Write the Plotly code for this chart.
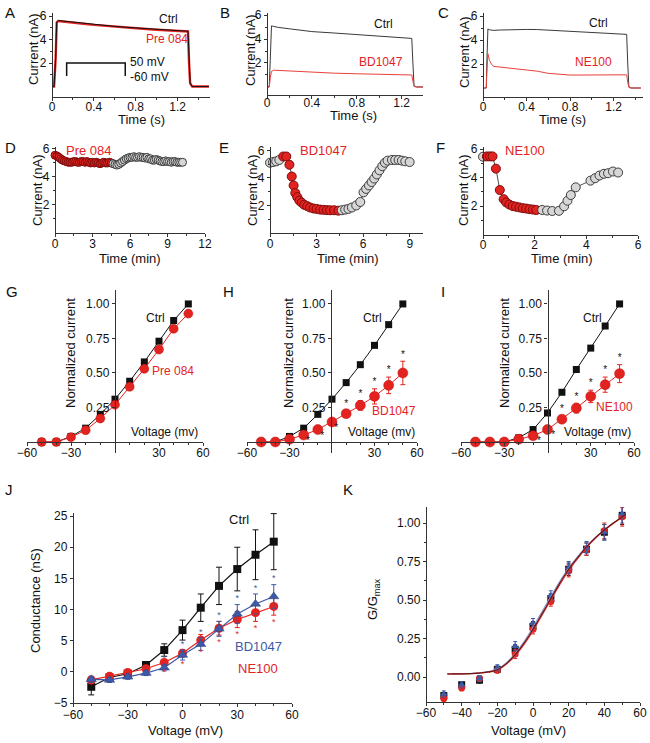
import plotly.graph_objects as go

W, H = 650, 743
FONT = "Liberation Sans, Arial, sans-serif"
RED = "#e3231f"
REDLINE = "#e8403c"
BLUE = "#3d5aa8"
BLK = "#111111"

# ---------------- data ----------------
# A
a_t = [0, 0.02, 0.035, 0.045, 0.06, 0.1, 0.2, 0.3, 0.4, 0.5, 0.6, 0.7, 0.8, 0.9, 1.0, 1.1, 1.2, 1.3, 1.31, 1.32, 1.34, 1.4, 1.5]
a_ctrl = [0, 0, 2.5, 5.5, 5.62, 5.58, 5.48, 5.38, 5.28, 5.2, 5.12, 5.05, 4.98, 4.92, 4.86, 4.81, 4.76, 4.71, 2.0, 0.3, 0, 0, 0]
a_pre = [0, 0, 2.4, 5.45, 5.58, 5.55, 5.45, 5.35, 5.25, 5.17, 5.1, 5.03, 4.96, 4.9, 4.84, 4.79, 4.74, 4.69, 2.0, 0.3, 0, 0, 0]
proto_t = [0.14, 0.14, 0.70, 0.70]
proto_v = [0.9, 2.0, 2.0, 0.9]
# B
b_t = [0, 0.02, 0.03, 0.04, 0.06, 0.1, 0.2, 0.4, 0.6, 0.8, 1.0, 1.2, 1.29, 1.3, 1.31, 1.33, 1.39]
b_ctrl = [0, 0, 2.5, 5.1, 5.05, 4.97, 4.85, 4.62, 4.5, 4.38, 4.25, 4.12, 4.05, 2.0, 0.1, 0, 0]
b_bd = [0, 0, 0.8, 1.3, 1.4, 1.38, 1.33, 1.22, 1.15, 1.1, 1.05, 1.02, 1.0, 0.5, 0.05, 0, 0]
# C
c_t = [0, 0.03, 0.035, 0.04, 0.045, 0.06, 0.08, 0.1, 0.15, 0.2, 0.3, 0.4, 0.5, 0.6, 0.7, 0.8, 0.9, 1.0, 1.1, 1.2, 1.3, 1.32, 1.33, 1.34, 1.36, 1.45]
c_ctrl = [0, 0, 2, 4.6, 4.92, 4.85, 4.8, 4.8, 4.83, 4.85, 4.88, 4.88, 4.87, 4.82, 4.78, 4.74, 4.7, 4.66, 4.62, 4.57, 4.5, 4.47, 2, 0.1, 0, 0]
c_ne = [0, 0, 1.2, 2.6, 2.85, 2.3, 1.95, 1.8, 1.75, 1.7, 1.64, 1.56, 1.4, 1.22, 1.12, 1.08, 1.08, 1.08, 1.09, 1.1, 1.1, 1.1, 0.5, 0.05, 0, 0]
# D
d_red_t = [0.0, 0.15, 0.3, 0.45, 0.6, 0.75, 0.9, 1.05, 1.2, 1.35, 1.5, 1.65, 1.8, 1.95, 2.1, 2.25, 2.4, 2.55, 2.7, 2.85, 3.0, 3.15, 3.3, 3.45, 3.6, 3.75, 3.9, 4.05, 4.2, 4.35, 4.5]
d_red_i = [5.55, 5.5, 5.4, 5.3, 5.2, 5.15, 5.1, 5.05, 5.05, 5.05, 5.1, 5.1, 5.05, 5.05, 5.1, 5.1, 5.05, 5.1, 5.05, 5.0, 5.05, 5.0, 5.05, 5.0, 4.95, 5.0, 5.05, 5.0, 5.0, 5.05, 5.0]
d_gray_t = [4.65, 4.8, 4.95, 5.1, 5.25, 5.4, 5.55, 5.7, 5.85, 6.0, 6.15, 6.3, 6.45, 6.6, 6.75, 6.9, 7.05, 7.2, 7.35, 7.5, 7.65, 7.8, 7.95, 8.1, 8.25, 8.4, 8.55, 8.7, 8.85, 9.0, 9.15, 9.3, 9.45, 9.6, 9.75, 9.9, 10.05, 10.2]
d_gray_i = [4.95, 4.9, 4.85, 4.9, 5.0, 5.1, 5.2, 5.3, 5.35, 5.4, 5.4, 5.45, 5.4, 5.4, 5.45, 5.4, 5.4, 5.35, 5.4, 5.3, 5.3, 5.2, 5.2, 5.25, 5.2, 5.15, 5.1, 5.1, 5.15, 5.1, 5.1, 5.05, 5.1, 5.1, 5.05, 5.05, 5.05, 5.05]
# E
e_gray1_t = [0.0, 0.2, 0.4, 0.6]
e_gray1_i = [5.1, 5.15, 5.2, 5.3]
e_red_t = [0.85, 1.05, 1.25, 1.4, 1.52, 1.63, 1.76, 1.89, 2.04, 2.2, 2.4, 2.58, 2.8, 3.0, 3.23, 3.44, 3.66, 3.87, 4.13, 4.4]
e_red_i = [5.55, 5.55, 4.95, 4.1, 3.45, 2.9, 2.6, 2.35, 2.2, 2.05, 1.95, 1.85, 1.78, 1.75, 1.7, 1.68, 1.66, 1.65, 1.65, 1.62]
e_gray2_t = [4.62, 4.84, 5.05, 5.27, 5.55, 5.81, 6.02, 6.19, 6.37, 6.54, 6.71, 6.88, 7.05, 7.23, 7.4, 7.57, 7.85, 8.06, 8.28, 8.49, 8.71, 8.99]
e_gray2_i = [1.65, 1.7, 1.75, 1.85, 2.0, 2.25, 2.95, 3.2, 3.45, 3.7, 3.95, 4.25, 4.55, 4.85, 5.1, 5.25, 5.3, 5.3, 5.3, 5.25, 5.2, 5.15]
# F
f_gray1_t = [0.0]
f_gray1_i = [5.46]
f_red_t = [0.15, 0.27, 0.37, 0.5, 0.65, 0.8, 0.9, 1.02, 1.15, 1.28, 1.41, 1.54, 1.67, 1.8, 1.93, 2.06]
f_red_i = [5.48, 5.48, 5.48, 4.62, 3.12, 2.48, 2.25, 2.1, 2.0, 1.95, 1.9, 1.85, 1.82, 1.78, 1.75, 1.72]
f_gray2_t = [2.29, 2.48, 2.68, 2.94, 3.14, 3.27, 3.4, 3.59, 4.16, 4.34, 4.51, 4.68, 4.84, 5.03, 5.23]
f_gray2_i = [1.72, 1.68, 1.65, 1.66, 1.98, 2.37, 2.77, 3.31, 3.78, 3.95, 4.14, 4.26, 4.3, 4.42, 4.35]
# G, H, I
volt = [-50, -40, -30, -20, -10, 0, 10, 20, 30, 40, 50]
g_ctrl = [0, 0, 0.04, 0.1, 0.2, 0.31, 0.44, 0.58, 0.73, 0.88, 1.0]
g_pre = [0, 0, 0.035, 0.085, 0.17, 0.27, 0.4, 0.53, 0.67, 0.82, 0.93]
h_ctrl = [0, 0, 0.04, 0.1, 0.2, 0.31, 0.43, 0.56, 0.7, 0.85, 1.0]
h_bd = [0, 0, 0.02, 0.05, 0.09, 0.145, 0.205, 0.265, 0.33, 0.41, 0.5]
h_bd_err = [0, 0, 0.005, 0.01, 0.015, 0.02, 0.02, 0.035, 0.055, 0.06, 0.085]
i_ctrl = [0, 0, 0, 0.03, 0.09, 0.21, 0.36, 0.525, 0.68, 0.84, 1.0]
i_ne = [0, 0, 0, 0.02, 0.045, 0.09, 0.165, 0.245, 0.33, 0.415, 0.495]
i_ne_err = [0, 0, 0.005, 0.005, 0.01, 0.015, 0.025, 0.035, 0.045, 0.055, 0.065]
# J
j_ctrl = [-2.4, -0.9, -0.3, 1.1, 3.5, 6.7, 10.3, 13.8, 16.5, 18.8, 20.9]
j_ctrl_err = [1.3, 0.5, 0.4, 0.4, 1.0, 1.6, 2.2, 3.0, 3.5, 4.0, 4.5]
j_bd = [-1.2, -1.3, -0.8, -0.2, 0.65, 2.7, 4.45, 6.9, 9.3, 10.9, 12.1]
j_bd_err = [0.5, 0.4, 0.4, 0.4, 0.5, 0.8, 1.0, 1.2, 1.5, 1.6, 1.9]
j_ne = [-1.3, -0.7, -0.1, 0.5, 1.5, 3.0, 5.1, 7.0, 8.4, 9.5, 10.5]
j_ne_err = [0.5, 0.4, 0.4, 0.4, 0.5, 0.6, 0.9, 1.1, 1.3, 1.4, 1.4]
# K
k_ctrl = [-0.12, -0.05, -0.02, 0.05, 0.18, 0.33, 0.51, 0.70, 0.83, 0.94, 1.05]
k_bd = [-0.11, -0.05, -0.01, 0.06, 0.2, 0.35, 0.53, 0.71, 0.84, 0.94, 1.06]
k_ne = [-0.14, -0.07, -0.01, 0.045, 0.15, 0.31, 0.49, 0.69, 0.83, 0.95, 1.04]
k_err = [0.02, 0.02, 0.02, 0.02, 0.03, 0.03, 0.03, 0.04, 0.04, 0.05, 0.06]
k_fit_v = [-48, -45, -40, -35, -30, -25, -20, -15, -10, -5, 0, 5, 10, 15, 20, 25, 30, 35, 40, 45, 50, 52]
k_fit_ctrl = [0.02, 0.02, 0.021, 0.022, 0.026, 0.033, 0.047, 0.087, 0.145, 0.22, 0.31, 0.41, 0.51, 0.61, 0.70, 0.775, 0.845, 0.905, 0.955, 1.0, 1.04, 1.055]
k_fit_bd = [0.02, 0.02, 0.021, 0.023, 0.028, 0.036, 0.052, 0.094, 0.155, 0.232, 0.325, 0.425, 0.525, 0.622, 0.71, 0.783, 0.85, 0.908, 0.957, 1.0, 1.038, 1.05]
k_fit_ne = [0.02, 0.02, 0.021, 0.022, 0.025, 0.032, 0.045, 0.083, 0.138, 0.212, 0.30, 0.40, 0.50, 0.60, 0.69, 0.768, 0.84, 0.9, 0.952, 0.997, 1.037, 1.05]

# ---------------- layout helpers ----------------
def fx(px):
    return px / W

def fy(py):
    return 1 - py / H

layout = dict(width=W, height=H, margin=dict(l=0, r=0, t=0, b=0, pad=0, autoexpand=False),
              paper_bgcolor="white", plot_bgcolor="white", showlegend=False,
              font=dict(family=FONT, size=12, color=BLK))
annotations = []
traces = []

def axis_style(**kw):
    d = dict(showline=True, linecolor="#333", linewidth=1.3, ticks="outside", ticklen=3,
             tickwidth=1.2, tickcolor="#333", showgrid=False, zeroline=False, automargin=False,
             tickfont=dict(family=FONT, size=12, color=BLK), fixedrange=True)
    d.update(kw)
    return d

def make_axes(n, xpx, ypx, xr, yr, xt, yt, xminor=None, yminor=None,
              xpos=None, ypos=None, xfmt=None, yfmt=None, xstand=0):
    s = "" if n == 1 else str(n)
    xa = axis_style(domain=[fx(xpx[0]), fx(xpx[1])], range=xr, tickmode="array",
                    tickvals=xt, anchor="free",
                    position=fy(ypx[1] if xpos is None else xpos),
                    ticklabelstandoff=xstand)
    ya = axis_style(domain=[fy(ypx[1]), fy(ypx[0])], range=yr, tickmode="array",
                    tickvals=yt, anchor="free",
                    position=fx(xpx[0] if ypos is None else ypos))
    if xfmt:
        xa["tickformat"] = xfmt
    if yfmt:
        ya["tickformat"] = yfmt
    if xminor:
        xa["minor"] = dict(tickmode="array", tickvals=xminor, ticks="outside", ticklen=2, tickcolor="#333")
    if yminor:
        ya["minor"] = dict(tickmode="array", tickvals=yminor, ticks="outside", ticklen=2, tickcolor="#333")
    layout["xaxis" + s] = xa
    layout["yaxis" + s] = ya
    return "x" + s, "y" + s

def ann(text, x, y, size=13, color=BLK, angle=0, xanchor="center"):
    annotations.append(dict(text=text, x=fx(x), y=fy(y), xref="paper", yref="paper",
                            showarrow=False, font=dict(family=FONT, size=size, color=color),
                            textangle=angle, xanchor=xanchor, yanchor="middle"))

def line(x, y, xa, ya, color, width=1.0):
    traces.append(go.Scatter(x=x, y=y, xaxis=xa, yaxis=ya, mode="lines",
                             line=dict(color=color, width=width), hoverinfo="skip"))

# ---------------- Row 1: traces ----------------
xa, ya = make_axes(1, (52, 210), (13, 97), [0, 1.51], [-0.89, 6.26],
                   [0, 0.4, 0.8, 1.2], [2, 4, 6], xminor=[0.2, 0.6, 1.0, 1.4], yminor=[1, 3, 5],
                   xstand=-5)
line(a_t, a_pre, xa, ya, RED, 2.4)
line(a_t, a_ctrl, xa, ya, BLK, 1.0)
line(proto_t, proto_v, xa, ya, BLK, 1.5)
ann("Ctrl", 168, 19, 12)
ann("Pre 084", 167, 39, 12, RED)
ann("50 mV", 128, 62, 12, xanchor="left")
ann("-60 mV", 128, 77, 12, xanchor="left")
ann("Current (nA)", 33, 49, 13, angle=-90)
ann("Time (s)", 141, 119, 13)

xa, ya = make_axes(2, (267, 423), (13, 95), [0, 1.39], [-0.67, 6.17],
                   [0, 0.4, 0.8, 1.2], [2, 4, 6], xminor=[0.2, 0.6, 1.0], yminor=[1, 3, 5],
                   xstand=-7)
line(b_t, b_ctrl, xa, ya, "#3a3a3a", 1.0)
line(b_t, b_bd, xa, ya, REDLINE, 1.0)
ann("Ctrl", 383, 24, 12)
ann("BD1047", 381, 62, 12, RED)
ann("Current (nA)", 250, 50, 13, angle=-90)
ann("Time (s)", 353, 115, 13)

xa, ya = make_axes(3, (483, 643), (13, 97), [0, 1.47], [-0.75, 6.25],
                   [0, 0.4, 0.8, 1.2], [2, 4, 6], xminor=[0.2, 0.6, 1.0, 1.4], yminor=[1, 3, 5],
                   xstand=-5)
line(c_t, c_ctrl, xa, ya, "#3a3a3a", 1.0)
line(c_t, c_ne, xa, ya, REDLINE, 1.0)
ann("Ctrl", 598, 23, 12)
ann("NE100", 593, 62, 12, RED)
ann("Current (nA)", 465, 52, 13, angle=-90)
ann("Time (s)", 562, 119, 13)

# ---------------- Row 2: time courses ----------------
GRAY_M = dict(color="#d6d6d6", line=dict(color="#3c3c3c", width=1))
RED_M = dict(color=RED, line=dict(color="#7a0d0d", width=1))

def timecourse(xa, ya, segs, msize):
    allx, ally = [], []
    for t, i, kind in segs:
        allx += t
        ally += i
    line(allx, ally, xa, ya, "#222", 0.8)
    for t, i, kind in segs:
        m = dict(GRAY_M if kind == "g" else RED_M)
        m["size"] = msize
        traces.append(go.Scatter(x=t, y=i, xaxis=xa, yaxis=ya, mode="markers",
                                 marker=m, cliponaxis=False, hoverinfo="skip"))

xa, ya = make_axes(4, (55, 205), (147, 233), [0, 12], [0, 6.14],
                   [0, 3, 6, 9, 12], [2, 4, 6], xminor=[1.5, 4.5, 7.5, 10.5], yminor=[1, 3, 5],
                   xstand=-4)
timecourse(xa, ya, [(d_red_t, d_red_i, "r"), (d_gray_t, d_gray_i, "g")], 8)
ann("Pre 084", 89, 150, 13, RED)
ann("Current (nA)", 37, 190, 13, angle=-90)
ann("Time (min)", 130, 259, 13)

xa, ya = make_axes(5, (270, 423), (147, 233), [0, 9.85], [0, 6.24],
                   [0, 3, 6, 9], [2, 4, 6], xminor=[1.5, 4.5, 7.5], yminor=[1, 3, 5],
                   xstand=-4)
timecourse(xa, ya, [(e_gray1_t, e_gray1_i, "g"), (e_red_t, e_red_i, "r"),
                    (e_gray2_t, e_gray2_i, "g")], 9)
ann("BD1047", 323, 150, 13, RED)
ann("Current (nA)", 252, 190, 13, angle=-90)
ann("Time (min)", 348, 259, 13)

xa, ya = make_axes(6, (483, 638), (147, 234.5), [0, 6], [0, 6.14],
                   [0, 2, 4, 6], [2, 4, 6], xminor=[1, 3, 5], yminor=[1, 3, 5],
                   xstand=-4)
timecourse(xa, ya, [(f_gray1_t, f_gray1_i, "g"), (f_red_t, f_red_i, "r"),
                    (f_gray2_t, f_gray2_i, "g")], 9)
ann("NE100", 525, 150, 13, RED)
ann("Current (nA)", 463, 190, 13, angle=-90)
ann("Time (min)", 562, 259, 13)

# ---------------- Row 3: I-V ----------------
def iv_axes(n, xpx, yax_px):
    return make_axes(n, xpx, (290, 453), [-60, 60], [-0.08, 1.101],
                     [-60, -30, 30, 60], [0.25, 0.5, 0.75, 1.0],
                     xminor=[-50, -40, -20, -10, 10, 20, 40, 50],
                     xpos=442, ypos=yax_px, yfmt=".2f", xstand=-4)

def sq(xa, ya, y, size=7):
    traces.append(go.Scatter(x=volt, y=y, xaxis=xa, yaxis=ya, mode="lines+markers",
                             line=dict(color=BLK, width=1),
                             marker=dict(symbol="square", size=size, color=BLK),
                             cliponaxis=False, hoverinfo="skip"))

def rc(xa, ya, y, err=None, size=9):
    kw = {}
    if err is not None:
        kw["error_y"] = dict(type="data", array=err, color=RED, thickness=1, width=2.5)
    traces.append(go.Scatter(x=volt, y=y, xaxis=xa, yaxis=ya, mode="lines+markers",
                             line=dict(color=RED, width=1),
                             marker=dict(symbol="circle", size=size, color=RED,
                                         line=dict(color="#c01010", width=0.5)),
                             cliponaxis=False, hoverinfo="skip", **kw))

def stars(xa, ya, xs, ys, color=BLK, size=10):
    traces.append(go.Scatter(x=xs, y=ys, xaxis=xa, yaxis=ya, mode="text", text=["*"] * len(xs),
                             textfont=dict(family=FONT, size=size, color=color),
                             cliponaxis=False, hoverinfo="skip"))

xa, ya = iv_axes(7, (27, 203), 115)
sq(xa, ya, g_ctrl)
rc(xa, ya, g_pre)
ann("Ctrl", 155, 318, 12)
ann("Pre 084", 173, 371, 12, RED)
ann("Voltage (mv)", 164, 432, 12)
ann("Normalized current", 70, 353, 13, angle=-90)

xa, ya = iv_axes(8, (247, 417), 331)
sq(xa, ya, h_ctrl)
rc(xa, ya, h_bd, h_bd_err, 10)
idx_up = [6, 7, 8, 9, 10]
stars(xa, ya, [volt[i] for i in idx_up], [h_bd[i] + h_bd_err[i] + 0.045 for i in idx_up])
idx_dn = [3, 4, 5]
stars(xa, ya, [volt[i] + 3 for i in idx_dn], [h_bd[i] - 0.05 for i in idx_dn])
ann("Ctrl", 372, 318, 12)
ann("BD1047", 394, 411, 12, RED)
ann("Voltage (mv)", 381, 432, 12)
ann("Normalized current", 288, 353, 13, angle=-90)

xa, ya = iv_axes(9, (461, 634), 547.5)
sq(xa, ya, i_ctrl)
rc(xa, ya, i_ne, i_ne_err, 10)
stars(xa, ya, [volt[i] for i in idx_up], [i_ne[i] + i_ne_err[i] + 0.045 for i in idx_up])
idx_dn2 = [4, 5]
stars(xa, ya, [volt[i] + 4 for i in idx_dn2], [i_ne[i] - 0.045 for i in idx_dn2])
ann("Ctrl", 592, 318, 12)
ann("NE100", 614, 407, 12, RED)
ann("Voltage (mv)", 597, 432, 12)
ann("Normalized current", 504, 353, 13, angle=-90)

# ---------------- Row 4: J ----------------
xa, ya = make_axes(10, (73, 292), (513, 703), [-60, 60], [-5, 25.5],
                   [-60, -30, 0, 30, 60], [-5, 0, 5, 10, 15, 20, 25],
                   xminor=[-50, -40, -20, -10, 10, 20, 40, 50], xstand=-3)
traces.append(go.Scatter(x=volt, y=j_ctrl, xaxis=xa, yaxis=ya, mode="lines+markers",
                         line=dict(color=BLK, width=1.2),
                         marker=dict(symbol="square", size=8, color=BLK),
                         error_y=dict(type="data", array=j_ctrl_err, color=BLK, thickness=1, width=3),
                         cliponaxis=False, hoverinfo="skip"))
traces.append(go.Scatter(x=volt, y=j_ne, xaxis=xa, yaxis=ya, mode="lines+markers",
                         line=dict(color=RED, width=1.2),
                         marker=dict(symbol="circle", size=9, color=RED),
                         error_y=dict(type="data", array=j_ne_err, color=RED, thickness=1, width=2.5),
                         cliponaxis=False, hoverinfo="skip"))
traces.append(go.Scatter(x=volt, y=j_bd, xaxis=xa, yaxis=ya, mode="lines+markers",
                         line=dict(color=BLUE, width=1.2),
                         marker=dict(symbol="triangle-up", size=9, color=BLUE,
                                     line=dict(color="#2a3f7a", width=0.5)),
                         error_y=dict(type="data", array=j_bd_err, color=BLUE, thickness=1, width=2.5),
                         cliponaxis=False, hoverinfo="skip"))
idx_j = [4, 5, 6, 7, 8, 9, 10]
stars(xa, ya, [volt[i] for i in idx_j], [j_bd[i] + j_bd_err[i] + 0.9 for i in idx_j], BLUE, 9)
stars(xa, ya, [volt[i] for i in idx_j], [j_ne[i] - j_ne_err[i] - 1.2 for i in idx_j], RED, 9)
ann("Ctrl", 239, 519, 13)
ann("BD1047", 258, 646, 13, BLUE)
ann("NE100", 258, 668, 13, RED)
ann("Conductance (nS)", 35, 601, 13, angle=-90)
ann("Voltage (mV)", 185, 730, 13)

# ---------------- Row 4: K ----------------
xa, ya = make_axes(11, (426, 640), (507, 702), [-60, 60], [-0.162, 1.104],
                   [-60, -40, -20, 0, 20, 40, 60], [0, 0.25, 0.5, 0.75, 1.0],
                   xminor=[-50, -30, -10, 10, 30, 50], yminor=[0.125, 0.375, 0.625, 0.875],
                   yfmt=".2f", xstand=-4)
for y, sym, col, sz in [(k_ctrl, "square", BLK, 7), (k_ne, "circle", RED, 7), (k_bd, "triangle-up", BLUE, 7)]:
    traces.append(go.Scatter(x=volt, y=y, xaxis=xa, yaxis=ya, mode="markers",
                             marker=dict(symbol=sym, size=sz, color=col),
                             error_y=dict(type="data", array=k_err, color=col, thickness=1, width=2),
                             cliponaxis=False, hoverinfo="skip"))
traces.append(go.Scatter(x=k_fit_v, y=k_fit_bd, xaxis=xa, yaxis=ya, mode="lines",
                         line=dict(color="#7d96d6", width=1, shape="spline"), hoverinfo="skip"))
traces.append(go.Scatter(x=k_fit_v, y=k_fit_ne, xaxis=xa, yaxis=ya, mode="lines",
                         line=dict(color="#e0393c", width=1.2, shape="spline"), hoverinfo="skip"))
traces.append(go.Scatter(x=k_fit_v, y=k_fit_ctrl, xaxis=xa, yaxis=ya, mode="lines",
                         line=dict(color="#6a1414", width=1.2, shape="spline"), hoverinfo="skip"))
ann("G/G<sub>max</sub>", 373, 600, 13, angle=-90)
ann("Voltage (mV)", 528, 730, 13)

# ---------------- panel letters ----------------
for lab, x, y in [("A", 10, 12), ("B", 225, 12), ("C", 444, 12),
                  ("D", 10, 147), ("E", 224, 147), ("F", 440, 147),
                  ("G", 12, 292), ("H", 228, 292), ("I", 443, 292),
                  ("J", 9, 490), ("K", 348, 490)]:
    ann(lab, x, y, 15)

layout["annotations"] = annotations
fig = go.Figure(data=traces, layout=layout)
fig.write_html("out.html", config={"displayModeBar": False},
               post_script="document.body.style.margin='0';document.body.style.overflow='hidden';")
